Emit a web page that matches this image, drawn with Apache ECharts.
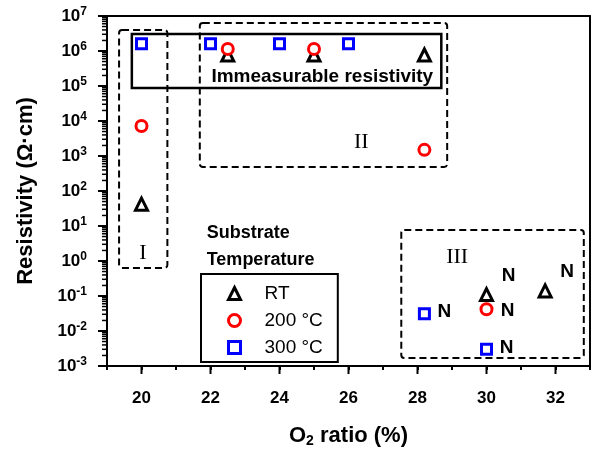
<!DOCTYPE html>
<html>
<head>
<meta charset="utf-8">
<script src="https://cdn.jsdelivr.net/npm/echarts@6/dist/echarts.min.js"></script>
<style>
html, body { margin: 0; padding: 0; background: #fff; }
#main { width: 593px; height: 455px; }
</style>
</head>
<body>
<div id="main"></div>
<script>
// data
var rtX = [20, 22.5, 25, 28.2, 30, 31.7];
var rtY = [42, 7.7e5, 7.7e5, 7.7e5, 0.11, 0.14];
var rtN = [0, 0, 0, 0, 1, 1];

var c200X = [20, 22.5, 25, 28.2, 30];
var c200Y = [7.2e3, 1.15e6, 1.15e6, 1.5e3, 0.042];
var c200N = [0, 0, 0, 0, 1];

var c300X = [20, 22, 24, 26, 28.2, 30];
var c300Y = [1.6e6, 1.6e6, 1.6e6, 1.6e6, 0.031, 0.003];
var c300N = [0, 0, 0, 0, 1, 1];

var xLabels = [20, 22, 24, 26, 28, 30, 32];

// annotation boxes [x1, y1, x2, y2]
var boxI = [19.35, 4.0e6, 20.75, 0.63];
var boxImm = [19.72, 3.06e6, 28.69, 8.8e4];
var boxII = [21.69, 6.3e6, 28.86, 485];
var boxIII = [27.53, 7.7, 32.82, 1.7e-3];

var sans = 'Arial, "Liberation Sans", Helvetica, sans-serif';
var serif = '"Liberation Serif", "Times New Roman", serif';

function pts(xs, ys, ns, off) {
	return xs.map(function(x, i){
		var d = { value: [x, ys[i]] };
		if (ns[i]) {
			d.label = { show: true, formatter: 'N', position: 'inside', offset: off,
				color: '#000', fontSize: 19, fontWeight: 'bold', fontFamily: sans };
		}
		return d;
	});
}

// log minor ticks on the y axis
var minorY = [];
for (var k = -3; k < 7; k++) {
	for (var m = 2; m < 10; m++) minorY.push([19, m * Math.pow(10, k)]);
}

var myChart = echarts.init(document.getElementById('main'));
var option = {
	animation: false,
	backgroundColor: '#fff',
	grid: { left: 107, right: 2, top: 16, bottom: 89 },
	legend: {
		orient: 'vertical',
		left: 201, top: 274,
		padding: [10, 15, 5, 26],
		itemWidth: 12, itemHeight: 12, itemGap: 8,
		borderColor: '#000', borderWidth: 2,
		itemStyle: { borderWidth: 3 },
		textStyle: { fontSize: 19, fontFamily: sans, color: '#000', lineHeight: 17, padding: [0, 0, 0, 19] },
		data: [
			{ name: 'RT', icon: 'triangle' },
			{ name: '200 °C', icon: 'circle' },
			{ name: '300 °C', icon: 'rect' }
		]
	},
	xAxis: [{
		type: 'value', min: 19, max: 33, interval: 1,
		axisLine: { lineStyle: { color: '#000', width: 2 } },
		axisTick: { length: 4, lineStyle: { color: '#000', width: 2 } },
		splitLine: { show: false },
		axisLabel: {
			margin: 24, color: '#000', fontSize: 17, fontWeight: 'bold', fontFamily: sans,
			formatter: function(v){ return xLabels.indexOf(v) >= 0 ? String(v) : ''; }
		},
		name: '{a|O}{s|2}{a| ratio (%)}',
		nameLocation: 'middle', nameGap: 58,
		nameTextStyle: {
			rich: {
				a: { fontSize: 22, fontWeight: 'bold', fontFamily: sans, color: '#000' },
				s: { fontSize: 14, fontWeight: 'bold', fontFamily: sans, color: '#000', verticalAlign: 'bottom', padding: [10, 0, 0, 0] }
			}
		}
	}, {
		type: 'value', min: 19, max: 33, position: 'top',
		axisLine: { lineStyle: { color: '#000', width: 2 } },
		axisTick: { show: false }, axisLabel: { show: false }, splitLine: { show: false }
	}],
	yAxis: [{
		type: 'log', logBase: 10, min: 1e-3, max: 1e7, interval: 1,
		axisLine: { show: true, lineStyle: { color: '#000', width: 2 } },
		axisTick: { length: 9, lineStyle: { color: '#000', width: 2 } },
		splitLine: { show: false },
		axisLabel: {
			margin: 20,
			formatter: function(v){ return '{b|10}{s|' + Math.round(Math.log10(v)) + '}'; },
			rich: {
				b: { fontSize: 17, fontWeight: 'bold', fontFamily: sans, color: '#000' },
				s: { fontSize: 12, fontWeight: 'bold', fontFamily: sans, color: '#000', verticalAlign: 'top', padding: [0, 0, 8, 0] }
			}
		},
		name: 'Resistivity (Ω·cm)',
		nameLocation: 'middle', nameGap: 70,
		nameTextStyle: { fontSize: 22, fontWeight: 'bold', fontFamily: sans, color: '#000' }
	}, {
		type: 'log', logBase: 10, min: 1e-3, max: 1e7, position: 'right',
		axisLine: { show: true, lineStyle: { color: '#000', width: 2 } },
		axisTick: { show: false }, axisLabel: { show: false }, splitLine: { show: false }
	}],
	series: [
		{
			type: 'custom', name: 'boxes', z: 1, silent: true,
			data: [boxI.concat([1]), boxImm.concat([0]), boxII.concat([1]), boxIII.concat([1])],
			encode: { x: [0, 2], y: [1, 3] },
			renderItem: function(params, api){
				var p1 = api.coord([api.value(0), api.value(1)]);
				var p2 = api.coord([api.value(2), api.value(3)]);
				var dashed = api.value(4) === 1;
				return {
					type: 'rect',
					shape: { x: p1[0], y: p1[1], width: p2[0] - p1[0], height: p2[1] - p1[1], r: dashed ? 3 : 0 },
					style: { fill: null, stroke: '#000', lineWidth: dashed ? 2 : 2.5, lineDash: dashed ? [7, 4] : null }
				};
			}
		},
		{
			type: 'custom', name: 'minorY', z: 3, silent: true,
			data: minorY,
			renderItem: function(params, api){
				var p = api.coord([api.value(0), api.value(1)]);
				return { type: 'line', shape: { x1: p[0] - 5, y1: p[1], x2: p[0], y2: p[1] },
					style: { stroke: '#000', lineWidth: 1.5 } };
			}
		},
		{
			type: 'custom', name: 'majorX', z: 3, silent: true,
			data: xLabels.map(function(x){ return [x, 1e-3]; }),
			renderItem: function(params, api){
				var p = api.coord([api.value(0), api.value(1)]);
				return { type: 'line', shape: { x1: p[0], y1: p[1], x2: p[0], y2: p[1] + 8 },
					style: { stroke: '#000', lineWidth: 2 } };
			}
		},
		{
			type: 'custom', name: 'notes', z: 4, silent: true,
			data: [
				[20.04, 1.7, 'I', 1],
				[26.37, 2500, 'II', 1],
				[29.15, 1.3, 'III', 1],
				[25.24, 1.8e5, 'Immeasurable resistivity', 0],
				[21.89, 6.3, 'Substrate', 2],
				[21.89, 1.07, 'Temperature', 2]
			],
			dimensions: ['x', 'y', 't', 'k'],
			encode: { x: 0, y: 1 },
			renderItem: function(params, api){
				var p = api.coord([api.value(0), api.value(1)]);
				var k = api.value(3);
				return {
					type: 'text', x: p[0], y: p[1],
					style: {
						text: api.value(2),
						fill: '#000',
						font: k === 1 ? '22px ' + serif : 'bold ' + (k === 2 ? 18 : 19) + 'px ' + sans,
						align: k === 2 ? 'left' : 'center',
						verticalAlign: 'middle'
					}
				};
			}
		},
		{
			name: 'RT', type: 'scatter', z: 5,
			symbol: 'triangle', symbolSize: 12,
			itemStyle: { color: '#fff', borderColor: '#000', borderWidth: 3, opacity: 1 },
			data: pts(rtX, rtY, rtN, [22, -19])
		},
		{
			name: '200 °C', type: 'scatter', z: 6,
			symbol: 'circle', symbolSize: 11,
			itemStyle: { color: '#fff', borderColor: '#ff0000', borderWidth: 3, opacity: 1 },
			data: pts(c200X, c200Y, c200N, [21, 2])
		},
		{
			name: '300 °C', type: 'scatter', z: 6,
			symbol: 'rect', symbolSize: 10,
			itemStyle: { color: '#fff', borderColor: '#0000ff', borderWidth: 3, opacity: 1 },
			data: pts(c300X, c300Y, c300N, [20, -2])
		}
	]
};
myChart.setOption(option);
</script>
</body>
</html>
